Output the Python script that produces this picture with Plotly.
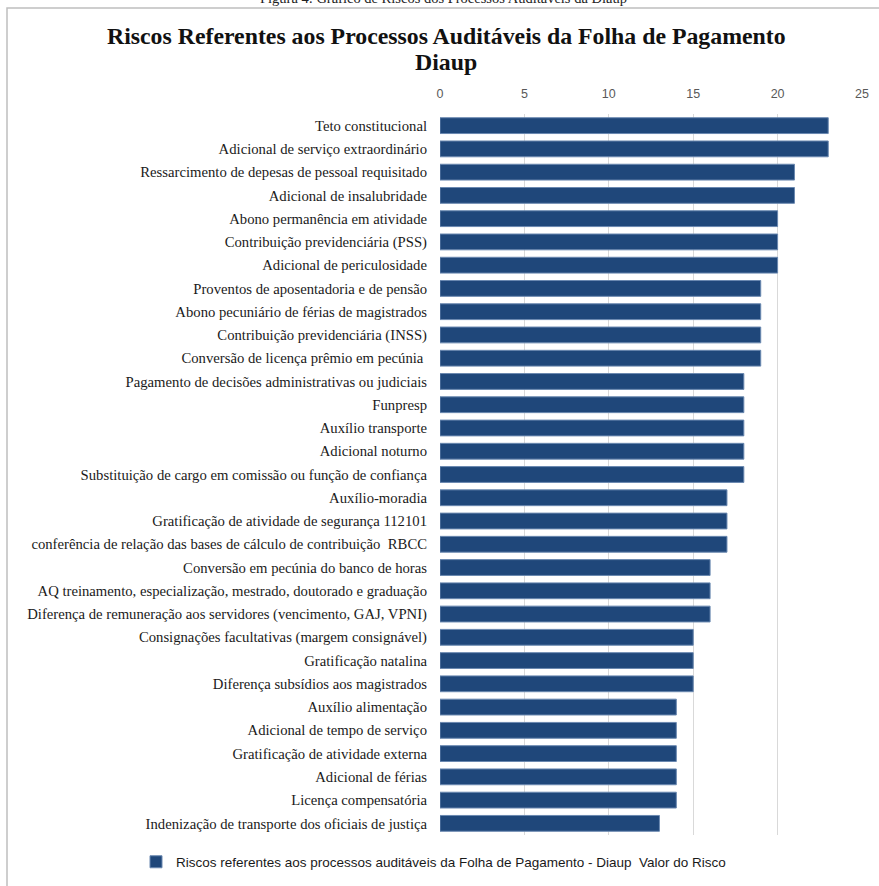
import plotly.graph_objects as go

categories = [
    "Teto constitucional",
    "Adicional de serviço extraordinário",
    "Ressarcimento de depesas de pessoal requisitado",
    "Adicional de insalubridade",
    "Abono permanência em atividade",
    "Contribuição previdenciária (PSS)",
    "Adicional de periculosidade",
    "Proventos de aposentadoria e de pensão",
    "Abono pecuniário de férias de magistrados",
    "Contribuição previdenciária (INSS)",
    "Conversão de licença prêmio em pecúnia ",
    "Pagamento de decisões administrativas ou judiciais",
    "Funpresp",
    "Auxílio transporte",
    "Adicional noturno",
    "Substituição de cargo em comissão ou função de confiança",
    "Auxílio-moradia",
    "Gratificação de atividade de segurança 112101",
    "conferência de relação das bases de cálculo de contribuição  RBCC",
    "Conversão em pecúnia do banco de horas",
    "AQ treinamento, especialização, mestrado, doutorado e graduação",
    "Diferença de remuneração aos servidores (vencimento, GAJ, VPNI)",
    "Consignações facultativas (margem consignável)",
    "Gratificação natalina",
    "Diferença subsídios aos magistrados",
    "Auxílio alimentação",
    "Adicional de tempo de serviço",
    "Gratificação de atividade externa",
    "Adicional de férias",
    "Licença compensatória",
    "Indenização de transporte dos oficiais de justiça",
]
valor_do_risco = [23, 23, 21, 21, 20, 20, 20, 19, 19, 19, 19, 18, 18, 18, 18, 18,
                  17, 17, 17, 16, 16, 16, 15, 15, 15, 14, 14, 14, 14, 14, 13]
x_ticks = [0, 5, 10, 15, 20, 25]

series_name = "Riscos referentes aos processos auditáveis da Folha de Pagamento - Diaup  Valor do Risco"
title_lines = ["Riscos Referentes aos Processos Auditáveis da Folha de Pagamento", "Diaup"]
caption_text = "Figura 4: Gráfico de Riscos dos Processos Auditáveis da Diaup"

W, H = 879, 886
ml, mr, mt, mb = 440, 17, 114, 51
PW, PH = W - ml - mr, H - mt - mb


def px_x(x):
    return (x - ml) / PW


def px_y(y):
    return 1 - (y - mt) / PH


fig = go.Figure()
fig.add_trace(go.Bar(
    y=categories,
    x=valor_do_risco,
    orientation="h",
    name=series_name,
    marker=dict(color="#1F477A", line=dict(color="#6A88B0", width=1)),
    width=0.68,
    showlegend=True,
))

fig.update_layout(
    width=W, height=H,
    margin=dict(l=ml, r=mr, t=mt, b=mb, pad=0, autoexpand=False),
    paper_bgcolor="white",
    plot_bgcolor="white",
    xaxis=dict(
        range=[0, 25],
        tickvals=x_ticks,
        side="top",
        showgrid=True,
        gridcolor="#D9D9D9",
        gridwidth=1,
        zeroline=False,
        showline=False,
        ticks="",
        automargin=False,
        ticklabelstandoff=13,
        tickfont=dict(family="Liberation Sans", size=12.5, color="#595959"),
    ),
    yaxis=dict(
        categoryorder="array",
        categoryarray=categories,
        autorange="reversed",
        showgrid=False,
        zeroline=False,
        showline=False,
        ticks="",
        automargin=False,
        ticklabelstandoff=12,
        tickfont=dict(family="Liberation Serif", size=14.7, color="#1a1a1a"),
    ),
    legend=dict(
        orientation="h",
        xref="container", x=136 / W, xanchor="left",
        yref="container", y=1 - 862 / H, yanchor="middle",
        font=dict(family="Liberation Sans", size=13.5, color="#1a1a1a"),
        itemwidth=30,
        bgcolor="rgba(0,0,0,0)",
    ),
    bargap=0.32,
)

# chart title (two lines)
for line, yc in zip(title_lines, [36, 62]):
    fig.add_annotation(text="<b>" + line + "</b>", xref="paper", yref="paper",
                       x=px_x(446), xanchor="center", y=px_y(yc), yanchor="middle",
                       showarrow=False,
                       font=dict(family="Liberation Serif", size=23.8, color="#111111"))

# frame border around the chart
fig.add_shape(type="rect", xref="paper", yref="paper",
              x0=px_x(7), x1=px_x(W + 20),
              y0=px_y(H + 20), y1=px_y(8),
              line=dict(color="#BFBFBF", width=1.5), layer="below")

# partially visible figure caption at the very top
fig.add_annotation(text=caption_text, xref="paper", yref="paper",
                   x=px_x(443), xanchor="center",
                   y=px_y(-2), yanchor="middle",
                   showarrow=False,
                   font=dict(family="Liberation Serif", size=14.5, color="#222222"))

fig.write_html("out.html", config={"displayModeBar": False},
               post_script="document.body.style.margin='0px';")
